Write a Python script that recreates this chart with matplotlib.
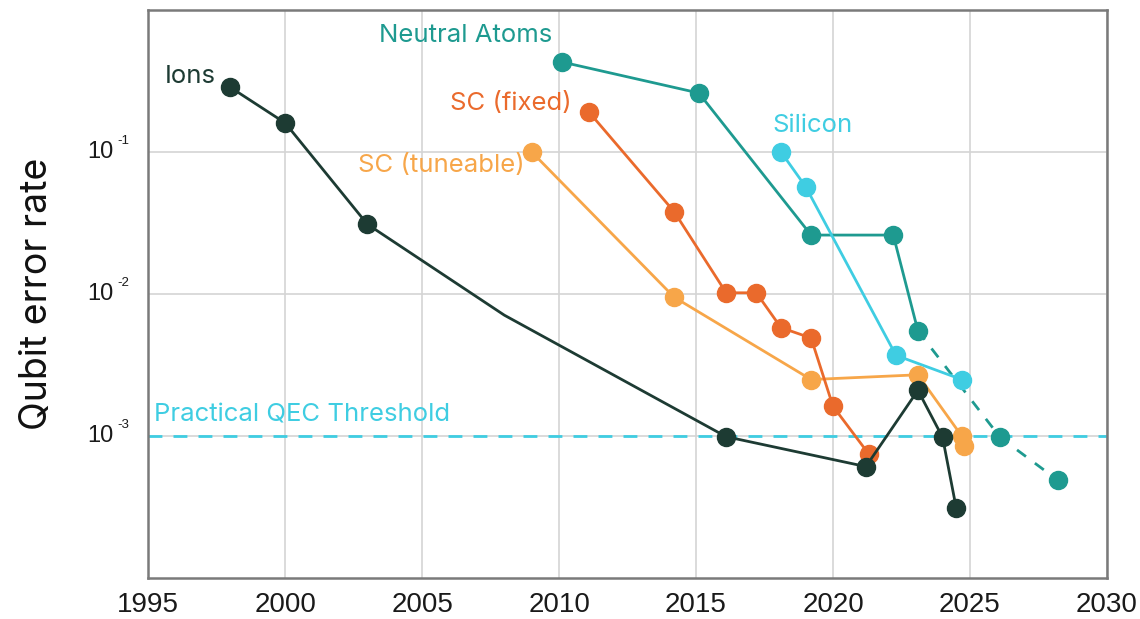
import numpy as np
import matplotlib
matplotlib.use('Agg')
import matplotlib.pyplot as plt
from matplotlib.ticker import FixedLocator, NullFormatter, NullLocator

# qubit error rates per platform (year, error rate)
ions_years = [1998, 2000, 2003, 2008, 2016.1, 2021.2, 2023.1, 2024.0, 2024.5]
ions_err = [0.285, 0.16, 0.031, 0.0071, 0.00099, 0.00061, 0.0021, 0.00098, 0.00031]
ions_marked = [0, 1, 2, 4, 5, 6, 7, 8]

atoms_years = [2010.1, 2015.1, 2019.2, 2022.2, 2023.1]
atoms_err = [0.43, 0.26, 0.026, 0.026, 0.0055]
atoms_proj_years = [2023.1, 2026.1, 2028.2]
atoms_proj_err = [0.0055, 0.00098, 0.00049]

silicon_years = [2018.1, 2019.0, 2022.3, 2024.7]
silicon_err = [0.1, 0.057, 0.0037, 0.0025]

fixed_years = [2011.1, 2014.2, 2016.1, 2017.2, 2018.1, 2019.2, 2020.0, 2021.3]
fixed_err = [0.19, 0.038, 0.0102, 0.0102, 0.0058, 0.0049, 0.00162, 0.00075]

tune_years = [2009.0, 2014.2, 2019.2, 2023.1, 2024.7, 2024.8]
tune_err = [0.1, 0.0095, 0.0025, 0.0027, 0.001, 0.00085]

threshold = 1e-3

year_ticks = [1995, 2000, 2005, 2010, 2015, 2020, 2025, 2030]
err_ticks = [1e-1, 1e-2, 1e-3]
err_exps = ['-1', '-2', '-3']

c_ions = '#1d3b33'
c_atoms = '#1e9a90'
c_silicon = '#3fcde2'
c_fixed = '#ea6a2c'
c_tune = '#f7a649'

plt.rcParams['font.family'] = ['Inter', 'DejaVu Sans']
plain = ['Liberation Sans', 'DejaVu Sans']

fig = plt.figure(figsize=(11.4, 6.19), dpi=100)
ax = fig.add_axes([0.130, 0.066, 0.841, 0.918])

ms = 13
lw = 2.0

ax.axhline(threshold, color=c_silicon, lw=2.0, ls=(0, (5, 4)), zorder=1)

ax.plot(ions_years, ions_err, color=c_ions, lw=lw, marker='o', ms=ms,
        markevery=ions_marked, zorder=3)
ax.plot(atoms_proj_years, atoms_proj_err, color=c_atoms, lw=lw, ls=(0, (4, 4)),
        zorder=2)
ax.plot(atoms_proj_years[1:], atoms_proj_err[1:], 'o', color=c_atoms, ms=ms, zorder=2)
ax.plot(atoms_years, atoms_err, color=c_atoms, lw=lw, marker='o', ms=ms, zorder=2)
ax.plot(silicon_years, silicon_err, color=c_silicon, lw=lw, marker='o', ms=ms, zorder=2)
ax.plot(tune_years, tune_err, color=c_tune, lw=lw, marker='o', ms=ms, zorder=2)
ax.plot(fixed_years, fixed_err, color=c_fixed, lw=lw, marker='o', ms=ms, zorder=2)

ax.set_yscale('log')
ax.set_xlim(1995, 2030)
ax.set_ylim(1e-4, 1)

ax.xaxis.set_major_locator(FixedLocator(year_ticks))
ax.yaxis.set_major_locator(FixedLocator(err_ticks))
ax.yaxis.set_major_formatter(NullFormatter())
ax.yaxis.set_minor_locator(NullLocator())
ax.tick_params(length=0)
ax.tick_params(axis='x', pad=10, labelsize=20, labelcolor='#1a1a1a')
for lab in ax.get_xticklabels():
    lab.set_family(plain)

# y tick labels as "10" with a small raised exponent
for v, e in zip(err_ticks, err_exps):
    ax.annotate('10', xy=(0, v), xycoords=('axes fraction', 'data'),
                xytext=(-25, 0), textcoords='offset points', ha='right',
                va='center', fontsize=17, family=plain, color='#1a1a1a',
                annotation_clip=False)
    ax.annotate(e, xy=(0, v), xycoords=('axes fraction', 'data'),
                xytext=(-22.5, 3.5), textcoords='offset points', ha='left',
                va='bottom', fontsize=9.5, family=plain, color='#1a1a1a',
                annotation_clip=False)

ax.grid(True, color='#d4d4d4', lw=1.2, zorder=0)
ax.set_axisbelow(True)
for s in ax.spines.values():
    s.set_color('#7a7a7a')
    s.set_linewidth(1.8)

ax.set_ylabel('Qubit error rate', fontsize=27, color='#111111')
ax.yaxis.set_label_coords(-0.097, 0.5)

fs = 18.5
ax.text(1997.45, 0.34, 'Ions', color=c_ions, fontsize=fs, ha='right', va='center')
ax.text(2006.6, 0.66, 'Neutral Atoms', color=c_atoms, fontsize=fs, ha='center', va='center')
ax.text(2010.47, 0.22, 'SC (fixed)', color=c_fixed, fontsize=fs, ha='right', va='center')
ax.text(2008.76, 0.08, 'SC (tuneable)', color=c_tune, fontsize=fs, ha='right', va='center')
ax.text(2017.8, 0.154, 'Silicon', color=c_silicon, fontsize=fs, ha='left', va='center')
ax.text(1995.2, 1.4e-3, 'Practical QEC Threshold', color=c_silicon, fontsize=fs,
        ha='left', va='center')

fig.savefig('out.png', dpi=100)
